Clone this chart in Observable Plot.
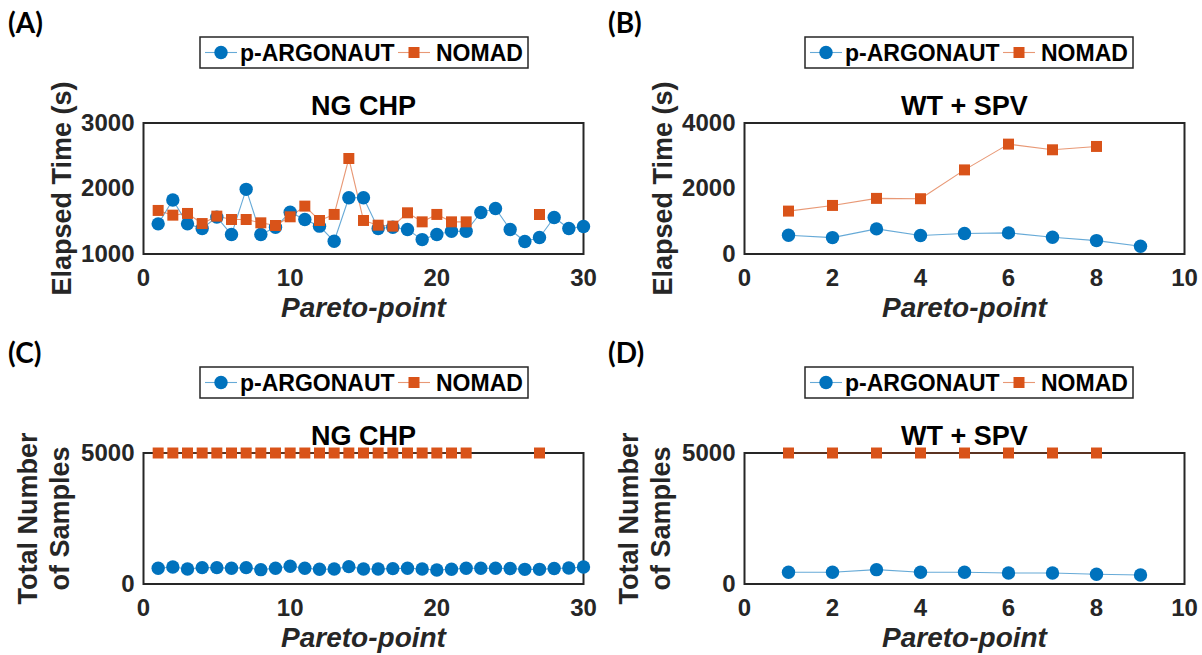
<!DOCTYPE html>
<html><head><meta charset="utf-8">
<script src="https://cdn.jsdelivr.net/npm/d3@7"></script>
<script src="https://cdn.jsdelivr.net/npm/@observablehq/plot@0.6"></script>
<style>
body{margin:0;background:#fff;}
#fig{position:relative;width:1202px;height:655px;overflow:hidden;background:#fff;}
#fig > svg{position:absolute;}
</style></head><body><div id="fig"></div>
<script>
// ---- data ----
const seriesNames = ["p-ARGONAUT", "NOMAD"];
const seriesColors = ["#0072BD", "#D95319"];
const panelLetters = ["(A)", "(B)", "(C)", "(D)"];
const caseTitles = ["NG CHP", "WT + SPV"];
const xLabel = "Pareto-point";
const yLabelTime = "Elapsed Time (s)";
const yLabelSamples = "Total Number\nof Samples";

const ptsNG = [1,2,3,4,5,6,7,8,9,10,11,12,13,14,15,16,17,18,19,20,21,22,23,24,25,26,27,28,29,30];
const ptsWT = [1,2,3,4,5,6,7,8,9];

const timeNG_arg = [1460,1824,1460,1389,1563,1297,1987,1297,1409,1639,1527,1425,1194,1859,1859,1389,1409,1374,1220,1297,1348,1348,1634,1695,1374,1191,1252,1557,1389,1420];
const timeNG_nomad = [1665,1593,1619,1465,1578,1527,1527,1476,1435,1568,1731,1512,1604,2458,1512,1440,1425,1629,1491,1604,1491,1491,null,null,null,null,1603,null,null,null];
const timeWT_arg = [573,501,767,563,624,645,512,409,235];
const timeWT_nomad = [1310,1483,1698,1688,2568,3355,3182,3284,null];

const samplesNG_arg = [599,650,574,625,625,599,625,548,599,676,599,561,574,663,574,574,587,599,574,536,561,599,600,600,590,560,560,590,610,650];
const samplesNG_nomad = [5000,5000,5000,5000,5000,5000,5000,5000,5000,5000,5000,5000,5000,5000,5000,5000,5000,5000,5000,5000,5000,5000,null,null,null,null,5000,null,null,null];
const samplesWT_arg = [446,446,548,446,446,421,421,370,344];
const samplesWT_nomad = [5000,5000,5000,5000,5000,5000,5000,5000,null];

const xTicksNG = [0,10,20,30];
const xTicksWT = [0,2,4,6,8,10];
const yTicksTimeNG = [1000,2000,3000];
const yTicksTimeWT = [0,2000,4000];
const yTicksSamples = [0,5000];

// ---- drawing ----
const fig = d3.select("#fig");
const FONT = "'Liberation Sans', Arial, Helvetica, sans-serif";

function panel(o) {
  const data = o.x.map((xi, i) => ({x: xi, arg: o.arg[i], nomad: o.nomad[i]}));
  const svg = Plot.plot({
    width: 601, height: 325,
    marginLeft: 143, marginRight: 18, marginTop: 122.5, marginBottom: 71.5,
    style: {fontFamily: FONT, fontSize: "24px", fontWeight: "bold", color: "#262626", background: "transparent", overflow: "visible"},
    x: {domain: o.xDomain, ticks: o.xTicks, tickSize: 0, tickPadding: 15, label: null, tickFormat: "d"},
    y: {domain: o.yDomain, ticks: o.yTicks, tickSize: 0, tickPadding: 9, label: null, tickFormat: "d"},
    marks: [
      Plot.frame({stroke: "#262626", strokeWidth: 2}),
      Plot.line(data, {x: "x", y: "arg", stroke: seriesColors[0], strokeWidth: 1.1, strokeOpacity: 0.6}),
      Plot.line(data, {x: "x", y: "nomad", stroke: seriesColors[1], strokeWidth: 1.1, strokeOpacity: 0.6}),
      Plot.dot(data, {x: "x", y: "arg", r: 6.7, fill: seriesColors[0], symbol: "circle"}),
      Plot.dot(data, {x: "x", y: "nomad", r: 6.2, fill: seriesColors[1], symbol: "square"}),
      Plot.text([o.title], {frameAnchor: "top", dy: -8.5, lineAnchor: "bottom", textAnchor: "middle", fontSize: 27, fontWeight: "bold", fill: "#000"}),
      Plot.text([xLabel], {frameAnchor: "bottom", dy: 63, lineAnchor: "bottom", textAnchor: "middle", fontSize: 28, fontWeight: "bold", fontStyle: "italic", fill: "#262626"}),
      Plot.text([o.ylabel], {frameAnchor: "left", dx: o.ydx, rotate: -90, lineAnchor: "bottom", textAnchor: "middle", lineHeight: 1.15, fontSize: 27, fontWeight: "bold", fill: "#262626"})
    ]
  });
  svg.style.left = o.left + "px";
  svg.style.top = o.top + "px";
  fig.node().appendChild(svg);
}

panel({left: 0, top: 0, x: ptsNG, arg: timeNG_arg, nomad: timeNG_nomad, xDomain: [0,30], xTicks: xTicksNG, yDomain: [1000,3000], yTicks: yTicksTimeNG, title: caseTitles[0], ylabel: yLabelTime, ydx: -73});
panel({left: 601, top: 0, x: ptsWT, arg: timeWT_arg, nomad: timeWT_nomad, xDomain: [0,10], xTicks: xTicksWT, yDomain: [0,4000], yTicks: yTicksTimeWT, title: caseTitles[1], ylabel: yLabelTime, ydx: -73});
panel({left: 0, top: 330, x: ptsNG, arg: samplesNG_arg, nomad: samplesNG_nomad, xDomain: [0,30], xTicks: xTicksNG, yDomain: [0,5000], yTicks: yTicksSamples, title: caseTitles[0], ylabel: yLabelSamples, ydx: -75});
panel({left: 601, top: 330, x: ptsWT, arg: samplesWT_arg, nomad: samplesWT_nomad, xDomain: [0,10], xTicks: xTicksWT, yDomain: [0,5000], yTicks: yTicksSamples, title: caseTitles[1], ylabel: yLabelSamples, ydx: -75});

// ---- overlay: panel letters and legends ----
const ov = fig.append("svg").attr("width", 1202).attr("height", 655).style("left", "0px").style("top", "0px");
const letterPos = [[8, 33], [608, 33], [8, 363], [608, 363]];
panelLetters.forEach((t, i) => {
  ov.append("text").attr("x", letterPos[i][0]).attr("y", letterPos[i][1])
    .attr("font-family", "Lato, 'Open Sans', sans-serif").attr("font-weight", "bold").attr("font-size", 28).attr("fill", "#000").text(t);
});
const legendPos = [[200, 37], [805, 37], [200, 367], [805, 367]];
legendPos.forEach(([lx, ly]) => {
  const g = ov.append("g").attr("transform", `translate(${lx},${ly})`);
  g.append("rect").attr("width", 328).attr("height", 31).attr("fill", "#fff").attr("stroke", "#262626").attr("stroke-width", 1.5);
  const items = [{x0: 5, tx: 40}, {x0: 198, tx: 236}];
  items.forEach((it, k) => {
    g.append("line").attr("x1", it.x0).attr("x2", it.x0 + 32).attr("y1", 15.5).attr("y2", 15.5)
      .attr("stroke", seriesColors[k]).attr("stroke-width", 1.1).attr("stroke-opacity", 0.6);
    if (k === 0) g.append("circle").attr("cx", it.x0 + 16).attr("cy", 15.5).attr("r", 6.7).attr("fill", seriesColors[k]);
    else g.append("rect").attr("x", it.x0 + 16 - 5.5).attr("y", 10).attr("width", 11).attr("height", 11).attr("fill", seriesColors[k]);
    g.append("text").attr("x", it.tx).attr("y", 24).attr("font-family", FONT).attr("font-weight", "bold")
      .attr("font-size", 23).attr("fill", "#000").text(seriesNames[k]);
  });
});
</script></body></html>
